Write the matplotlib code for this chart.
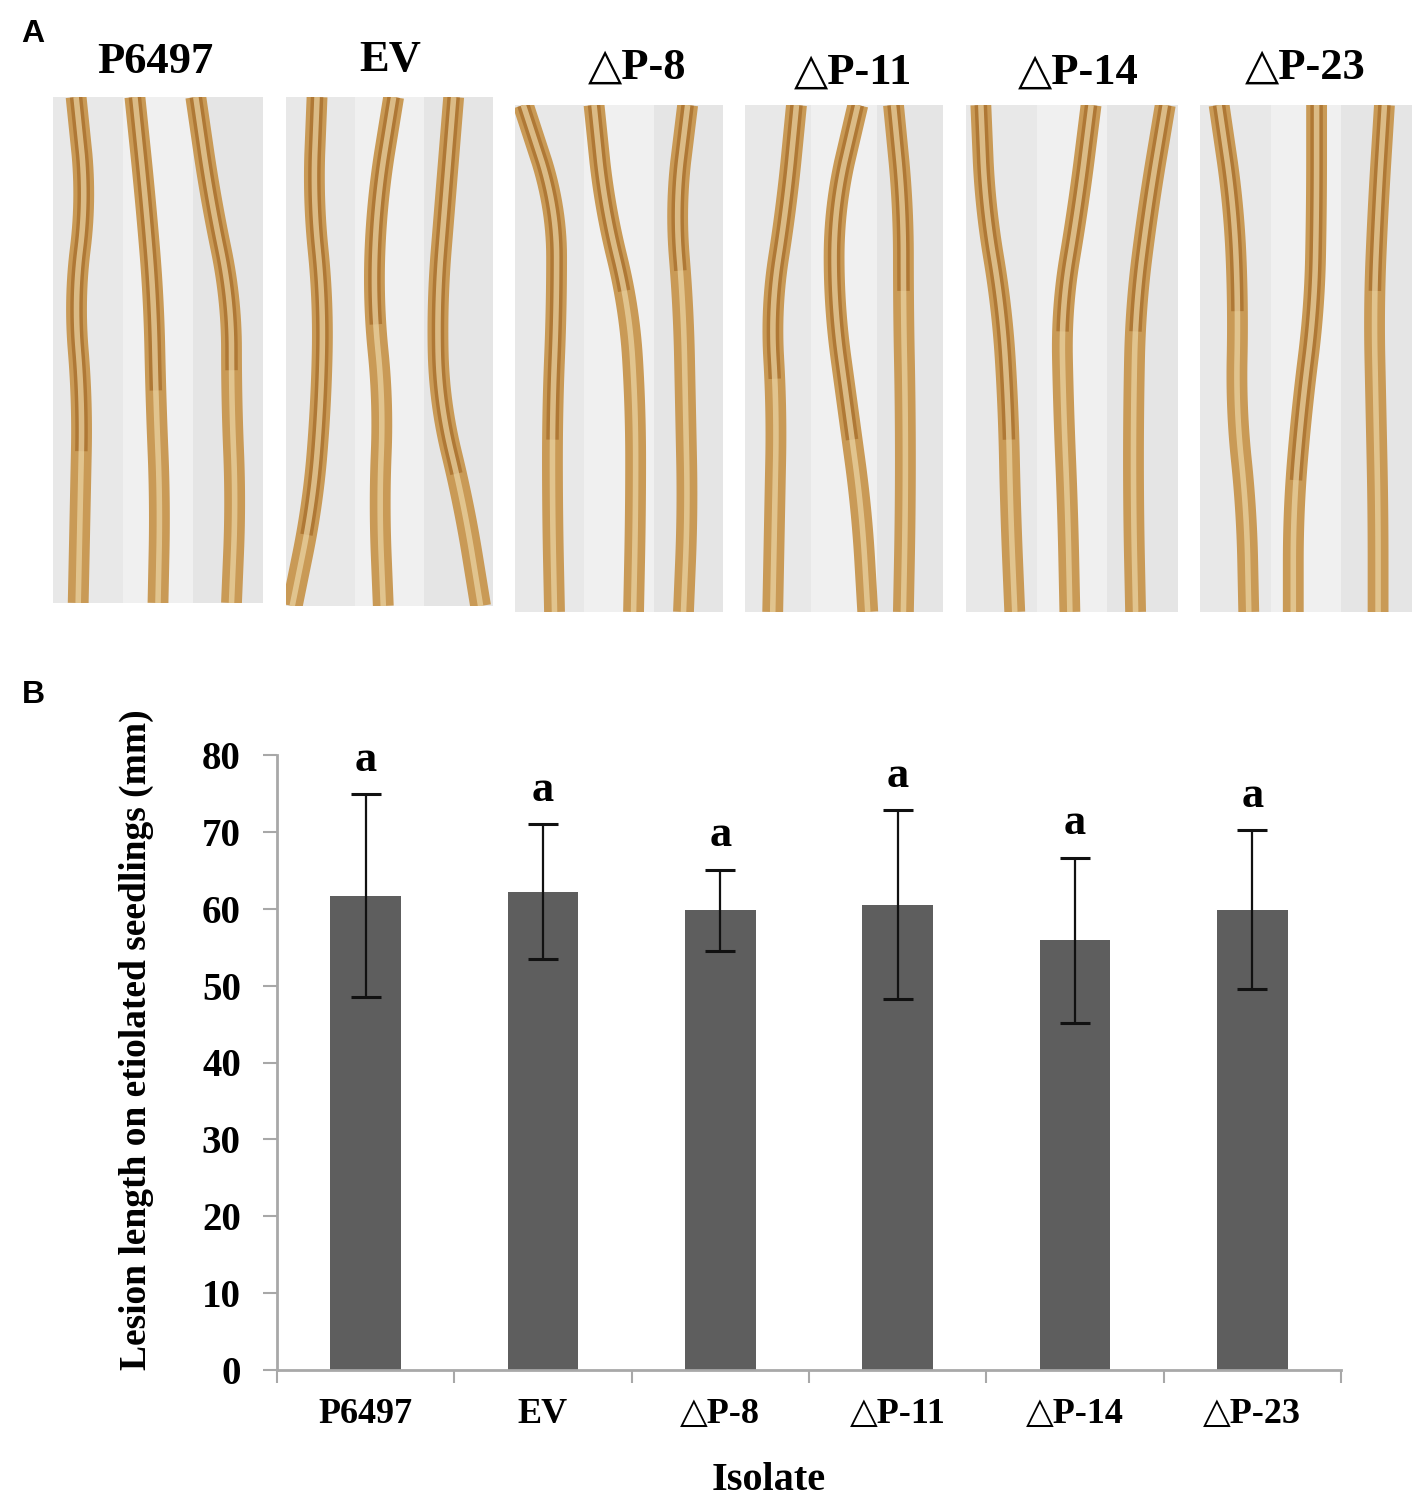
import numpy as np
import matplotlib
matplotlib.use('Agg')
from matplotlib import pyplot as plt

# bar chart data (panel B)
isolates = ['P6497', 'EV', '△P-8', '△P-11', '△P-14', '△P-23']
lesion_mean = [61.7, 62.2, 59.8, 60.5, 55.9, 59.9]
lesion_err = [13.2, 8.8, 5.3, 12.3, 10.7, 10.3]
groups = ['a', 'a', 'a', 'a', 'a', 'a']
yticks = [0, 10, 20, 30, 40, 50, 60, 70, 80]

# photo panel (A): seedling centre lines, as fraction of the panel width,
# read at these depths (top to bottom)
seed_depth = [0.0, 0.2, 0.4, 0.6, 0.8, 1.0]
seed_paths = [
    [[.11, .16, .10, .14, .13, .12], [.39, .44, .48, .49, .51, .50], [.68, .75, .85, .85, .87, .85]],
    [[.15, .13, .18, .17, .13, .03], [.52, .44, .42, .47, .45, .47], [.81, .77, .73, .74, .86, .94]],
    [[.04, .20, .20, .18, .18, .19], [.38, .43, .55, .58, .58, .57], [.83, .77, .81, .82, .83, .81]],
    [[.26, .21, .13, .16, .15, .14], [.57, .45, .45, .52, .59, .62], [.75, .80, .80, .81, .81, .80]],
    [[.07, .09, .17, .20, .21, .23], [.59, .53, .45, .46, .48, .49], [.94, .86, .80, .79, .79, .80]],
    [[.09, .16, .18, .17, .22, .23], [.55, .55, .54, .48, .44, .44], [.87, .84, .82, .83, .84, .84]],
]
# how far down each seedling the brown lesion reaches (fraction)
lesion_reach = [
    [0.75, 0.60, 0.55],
    [0.95, 0.45, 0.80],
    [0.70, 0.35, 0.30],
    [0.55, 0.70, 0.35],
    [0.70, 0.45, 0.45],
    [0.40, 0.80, 0.35],
]

W, H = 1421, 1508
fig = plt.figure(figsize=(W / 100, H / 100), dpi=100)

serif = ['Liberation Serif', 'DejaVu Serif']
sans = ['Liberation Sans', 'DejaVu Sans']


def box(x0, x1, y0, y1):
    # pixel box (top-left origin) -> figure fraction rect
    return [x0 / W, 1 - y1 / H, (x1 - x0) / W, (y1 - y0) / H]


def smooth(xs, ys, n=16):
    # quadratic bezier through the midpoints, just to round off the corners
    xs = np.asarray(xs, float)
    ys = np.asarray(ys, float)
    mx = (xs[:-1] + xs[1:]) / 2
    my = (ys[:-1] + ys[1:]) / 2
    ox, oy = [xs[0]], [ys[0]]
    t = np.linspace(0, 1, n)[1:]
    for i in range(1, len(xs) - 1):
        ax0, ay0 = mx[i - 1], my[i - 1]
        bx, by = mx[i], my[i]
        ox.extend((1 - t) ** 2 * ax0 + 2 * (1 - t) * t * xs[i] + t ** 2 * bx)
        oy.extend((1 - t) ** 2 * ay0 + 2 * (1 - t) * t * ys[i] + t ** 2 * by)
    ox.append(xs[-1])
    oy.append(ys[-1])
    return np.array(ox), np.array(oy)


# ---- panel A ----
photo_boxes = [(53, 263, 97, 603), (286, 493, 97, 606), (515, 723, 105, 612),
               (745, 943, 105, 612), (966, 1178, 105, 612), (1200, 1412, 105, 612)]
title_pos = [(155, 62), (390, 60), (637, 68), (853, 73), (1078, 73), (1305, 68)]
strip_shades = ['#e8e8e8', '#f0f0f0', '#e5e5e5']

for i, (bx, paths, reach) in enumerate(zip(photo_boxes, seed_paths, lesion_reach)):
    pax = fig.add_axes(box(*bx))
    pax.set_xlim(0, 1)
    pax.set_ylim(1, 0)
    for k, shade in enumerate(strip_shades):
        pax.axvspan(k / 3, (k + 1) / 3, color=shade, lw=0)
    for p, r in zip(paths, reach):
        sx, sy = smooth(p, seed_depth)
        pax.plot(sx, sy, color='#c99a56', lw=15, solid_capstyle='butt')
        n = max(2, int(len(sx) * r))
        pax.plot(sx[:n], sy[:n], color='#a46a28', lw=9, alpha=0.7, solid_capstyle='butt')
        pax.plot(sx, sy, color='#ead3a2', lw=4, alpha=0.75, solid_capstyle='butt')
    pax.axis('off')
    tx, ty = title_pos[i]
    fig.text(tx / W, 1 - ty / H, isolates[i], ha='center', va='center',
             fontsize=32, fontweight='bold', family=serif)

fig.text(33 / W, 1 - 34 / H, 'A', ha='center', va='center',
         fontsize=23, fontweight='bold', family=sans)
fig.text(33 / W, 1 - 695 / H, 'B', ha='center', va='center',
         fontsize=23, fontweight='bold', family=sans)

# ---- panel B ----
ax = fig.add_axes(box(277, 1341, 755, 1370))
x = np.arange(len(isolates))
ax.bar(x, lesion_mean, width=0.4, color='#5e5e5e',
       yerr=lesion_err, capsize=11,
       error_kw=dict(elinewidth=1.6, capthick=2.2, ecolor='#111111'))
for xi, m, e, g in zip(x, lesion_mean, lesion_err, groups):
    ax.annotate(g, (xi, m + e), xytext=(0, 17), textcoords='offset points',
                ha='center', va='baseline', fontsize=32, fontweight='bold', family=serif)

ax.set_xlim(-0.5, len(isolates) - 0.5)
ax.set_ylim(0, 80)
ax.set_yticks(yticks)
ax.set_xticks(x)
ax.set_xticklabels(isolates)
ax.set_xticks(np.arange(len(isolates) + 1) - 0.5, minor=True)

for s in ['top', 'right']:
    ax.spines[s].set_visible(False)
for s in ['left', 'bottom']:
    ax.spines[s].set_color('#a8a8a8')
    ax.spines[s].set_linewidth(2)

ax.tick_params(axis='y', length=10, width=1.5, color='#a8a8a8', pad=16)
ax.tick_params(axis='x', which='major', length=0, pad=20)
ax.tick_params(axis='x', which='minor', length=9, width=1.5, color='#a8a8a8')
for lab in ax.get_yticklabels():
    lab.set_family(serif)
    lab.set_fontweight('bold')
    lab.set_fontsize(28)
for lab in ax.get_xticklabels():
    lab.set_family(serif)
    lab.set_fontweight('bold')
    lab.set_fontsize(26)

fig.text(136 / W, 1 - 1040 / H, 'Lesion length on etiolated seedlings (mm)',
         rotation=90, ha='center', va='center', fontsize=27, fontweight='bold', family=serif)
fig.text(769 / W, 1 - 1480 / H, 'Isolate', ha='center', va='center',
         fontsize=29, fontweight='bold', family=serif)

fig.savefig('out.png', dpi=100, facecolor='white')
